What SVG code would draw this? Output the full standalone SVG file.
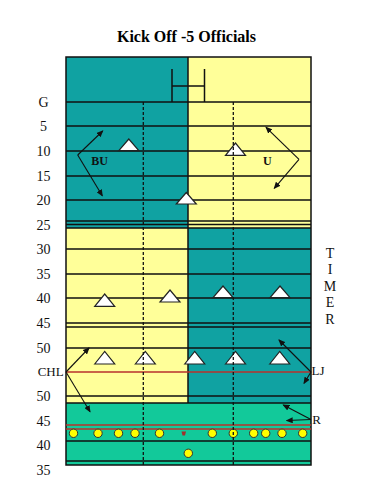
<svg xmlns="http://www.w3.org/2000/svg" width="368" height="490" viewBox="0 0 368 490">
<style>
.teal{fill:#10A2A2}
.yel{fill:#FFFF99}
.grn{fill:#12C99A}
.ln{stroke:#111;stroke-width:1.5;fill:none}
.red{stroke:#B8322C;stroke-width:1.6;fill:none}
.dash{stroke:#111;stroke-width:1.3;stroke-dasharray:3,2;fill:none}
.off{fill:#fff;stroke:#222;stroke-width:1.2;stroke-linejoin:miter}
.dot{fill:#FFFF00;stroke:#333;stroke-width:1}
.arr{stroke:#111;stroke-width:1.1;fill:none;marker-end:url(#ah)}
.yd{font-family:"Liberation Serif","Times New Roman",serif;font-size:14px;fill:#111;text-anchor:middle}
.lb{font-family:"Liberation Serif","Times New Roman",serif;font-size:13px;fill:#111}
.bl{font-family:"Liberation Serif","Times New Roman",serif;font-size:12px;font-weight:bold;fill:#111}
</style>
<defs>
<marker id="ah" markerWidth="7" markerHeight="6" refX="6" refY="3" orient="auto" markerUnits="userSpaceOnUse">
<path d="M0,0 L7,3 L0,6 Z" fill="#111"/>
</marker>
</defs>
<rect width="368" height="490" fill="#fff"/>
<text x="186.5" y="42" text-anchor="middle" font-family="Liberation Serif,'Times New Roman',serif" font-size="16" font-weight="bold" fill="#000">Kick Off -5 Officials</text>

<g id="field">
<rect class="teal" x="66" y="57" width="122" height="171"/>
<rect class="yel" x="188" y="57" width="123" height="171"/>
<rect class="yel" x="66" y="228" width="122" height="175"/>
<rect class="teal" x="188" y="228" width="123" height="175"/>
<rect class="grn" x="66" y="403" width="245" height="62"/>
<path class="ln" d="M66,102H311M66,126H311M66,151H311M66,176H311M66,200H311M66,221H311M66,224.5H311M66,228H311M66,249H311M66,274H311M66,298H311M66,323H311M66,327H311M66,348H311M66,396H311M66,403H311M66,441H311M66,461H311"/>
<path class="ln" d="M188,57V403"/>
<rect class="ln" x="66" y="57" width="245" height="408"/>
<path class="ln" d="M172,69V102M204.5,69V102M172,86H204.5"/>
<path class="red" d="M66,372H311M66,425H311M66,429H311"/>
</g>

<g id="yard-labels">
<text class="yd" x="43.5" y="107">G</text>
<text class="yd" x="43.5" y="131">5</text>
<text class="yd" x="43.5" y="156">10</text>
<text class="yd" x="43.5" y="181">15</text>
<text class="yd" x="43.5" y="205">20</text>
<text class="yd" x="43.5" y="229.5">25</text>
<text class="yd" x="43.5" y="254">30</text>
<text class="yd" x="43.5" y="279">35</text>
<text class="yd" x="43.5" y="303">40</text>
<text class="yd" x="43.5" y="328">45</text>
<text class="yd" x="43.5" y="352.5">50</text>
<text class="yd" x="43.5" y="401">50</text>
<text class="yd" x="43.5" y="425.5">45</text>
<text class="yd" x="43.5" y="450">40</text>
<text class="yd" x="43.5" y="474.5">35</text>
</g>

<g id="players">
<circle class="dot" cx="73.5" cy="433.3" r="4.2"/>
<circle class="dot" cx="98" cy="433.3" r="4.2"/>
<circle class="dot" cx="118.5" cy="433.3" r="4.2"/>
<circle class="dot" cx="135" cy="433.3" r="4.2"/>
<circle class="dot" cx="159.5" cy="433.3" r="4.2"/>
<circle class="dot" cx="212.3" cy="433.3" r="4.2"/>
<circle class="dot" cx="233.3" cy="433.3" r="4.2"/>
<circle class="dot" cx="253.7" cy="433.3" r="4.2"/>
<circle class="dot" cx="265.7" cy="433.3" r="4.2"/>
<circle class="dot" cx="282" cy="433.3" r="4.2"/>
<circle class="dot" cx="302.7" cy="433.3" r="4.2"/>
<circle class="dot" cx="188.3" cy="453.3" r="4.2"/>
<path d="M181.5,431.5H186L185,435.5H182.5Z" fill="#A0302C"/>
</g>

<g id="officials">
<g id="bu-pos"><polygon class="off" points="118.8,150.7 128.8,139 138.8,150.7"/></g>
<g id="u-pos"><polygon class="off" points="225.5,155.3 235.5,143 245.5,155.3"/></g>
<g id="center-pos"><polygon class="off" points="176.3,204 186.3,192.5 196.3,204"/></g>
<g id="off-40a"><polygon class="off" points="94.7,306.3 104.7,294 114.7,306.3"/></g>
<g id="off-40b"><polygon class="off" points="160,302 170,290 180,302"/></g>
<g id="off-40c"><polygon class="off" points="213,297.7 223,286 233,297.7"/></g>
<g id="off-40d"><polygon class="off" points="270,297.7 280,286 290,297.7"/></g>
<g id="off-50a"><polygon class="off" points="94.7,364 104.7,351.5 114.7,364"/></g>
<g id="off-50b"><polygon class="off" points="135.3,364 145.3,351.5 155.3,364"/></g>
<g id="off-50c"><polygon class="off" points="184.7,364 194.7,351.5 204.7,364"/></g>
<g id="off-50d"><polygon class="off" points="225.5,364 235.5,351.5 245.5,364"/></g>
<g id="off-50e"><polygon class="off" points="269.7,364 279.7,351.5 289.7,364"/></g>
</g>

<path class="dash" d="M143.3,102V465M233.3,102V465"/>

<g id="connectors">
<path class="arr" d="M77.7,155L102.7,131"/>
<path class="arr" d="M77.7,155L102.3,195.7"/>
<path class="arr" d="M299,159.3L266,127.3"/>
<path class="arr" d="M299,159.3L274.3,188.3"/>
<path class="arr" d="M66,372L89,348"/>
<path class="arr" d="M66,372L90,411.7"/>
<path class="arr" d="M311,372L279,340"/>
<path class="arr" d="M311,372L304,383.3"/>
<path class="arr" d="M311,419.5L283.3,405"/>
<path class="arr" d="M311,419.5L286.7,420.5"/>
</g>

<g id="labels">
<text class="bl" x="91.3" y="165">BU</text>
<text class="bl" x="263" y="165">U</text>
<text class="lb" x="37.7" y="375.5">CHL</text>
<text class="lb" x="311.5" y="375">LJ</text>
<text class="lb" x="312.3" y="423.5">R</text>
<g font-family="Liberation Serif,'Times New Roman',serif" font-size="14" fill="#111" text-anchor="middle">
<text x="330" y="257.5">T</text>
<text x="330" y="274">I</text>
<text x="330" y="290.5">M</text>
<text x="330" y="307">E</text>
<text x="330" y="324">R</text>
</g>
</g>
</svg>
